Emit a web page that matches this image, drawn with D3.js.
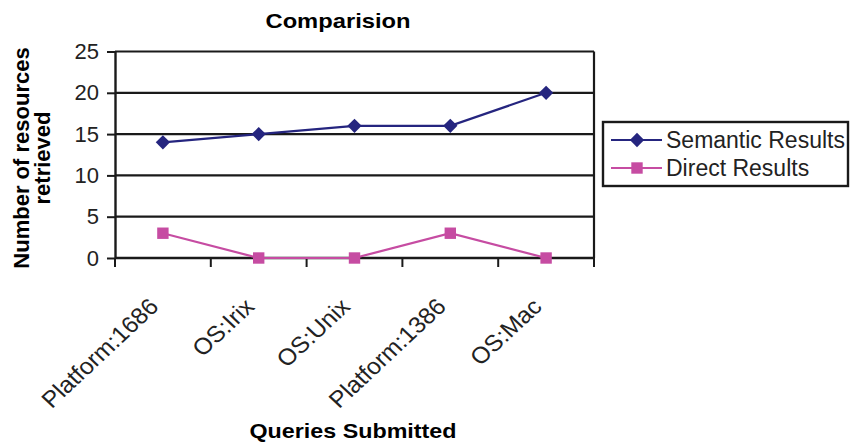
<!DOCTYPE html>
<html>
<head>
<meta charset="utf-8">
<script src="https://cdn.jsdelivr.net/npm/d3@7"></script>
<style>
  html, body { margin: 0; padding: 0; background: #fff; }
  svg { display: block; font-family: "Liberation Sans", Arial, sans-serif; }
</style>
</head>
<body>
<svg id="chart" width="851" height="447"></svg>
<script>
// Queries and the number of resources each one retrieved
const categories = ["Platform:1686", "OS:Irix", "OS:Unix", "Platform:1386", "OS:Mac"];
const semanticResults = [14, 15, 16, 16, 20];
const directResults = [3, 0, 0, 3, 0];
const yTicks = [0, 5, 10, 15, 20, 25];
const seriesNames = ["Semantic Results", "Direct Results"];

const svg = d3.select("#chart");
const plot = { left: 115, right: 594, top: 51.5, bottom: 258 };
const ink = "#1a1a1a";
const colors = { semantic: "#25257f", direct: "#c64ca2" };

const x = d3.scaleBand().domain(categories).range([plot.left, plot.right]);
const y = d3.scaleLinear().domain([0, 25]).range([plot.bottom, plot.top]);

// Title
svg.append("text")
  .attr("x", 338).attr("y", 28)
  .attr("text-anchor", "middle")
  .attr("font-weight", "bold")
  .attr("font-size", 21)
  .attr("textLength", 145).attr("lengthAdjust", "spacingAndGlyphs")
  .text("Comparision");

// Horizontal gridlines
svg.append("g")
  .selectAll("line")
  .data(yTicks)
  .join("line")
  .attr("x1", plot.left).attr("x2", plot.right)
  .attr("y1", d => y(d)).attr("y2", d => y(d))
  .attr("stroke", ink).attr("stroke-width", 2.2);

// Right border of the plot area
svg.append("line")
  .attr("x1", plot.right).attr("x2", plot.right)
  .attr("y1", y(25)).attr("y2", y(0))
  .attr("stroke", ink).attr("stroke-width", 2.2);

// Y axis
const yAxis = svg.append("g")
  .attr("transform", `translate(${plot.left},0)`)
  .call(d3.axisLeft(y).tickValues(yTicks).tickSize(8).tickPadding(8).tickSizeOuter(0));
yAxis.select(".domain").attr("stroke", ink).attr("stroke-width", 2.4);
yAxis.selectAll(".tick line").attr("stroke", ink).attr("stroke-width", 2);
yAxis.selectAll(".tick text")
  .attr("font-size", 22).attr("fill", "#222")
  .attr("font-family", "Liberation Sans, Arial, sans-serif");

// X axis: tick marks at the category boundaries
const boundaries = categories.map(c => x(c)).concat([plot.right]);
svg.append("line")
  .attr("x1", plot.left).attr("x2", plot.right)
  .attr("y1", plot.bottom).attr("y2", plot.bottom)
  .attr("stroke", ink).attr("stroke-width", 2.4);
svg.append("g")
  .selectAll("line")
  .data(boundaries)
  .join("line")
  .attr("x1", d => d).attr("x2", d => d)
  .attr("y1", plot.bottom).attr("y2", plot.bottom + 9)
  .attr("stroke", ink).attr("stroke-width", 2);

// Rotated category labels
svg.append("g")
  .selectAll("text")
  .data(categories)
  .join("text")
  .attr("transform", d => `translate(${x(d) + x.bandwidth() / 2 - 3},${plot.bottom + 50}) scale(1.07,1) rotate(-45)`)
  .attr("text-anchor", "end")
  .attr("font-size", 23)
  .attr("fill", "#222")
  .text(d => d);

// Axis titles
svg.append("text")
  .attr("x", 353).attr("y", 438)
  .attr("text-anchor", "middle")
  .attr("font-weight", "bold")
  .attr("font-size", 21)
  .attr("textLength", 207).attr("lengthAdjust", "spacingAndGlyphs")
  .text("Queries Submitted");

const yTitle = svg.append("text")
  .attr("transform", "translate(0,158) rotate(-90)")
  .attr("text-anchor", "middle")
  .attr("font-weight", "bold")
  .attr("font-size", 22);
yTitle.append("tspan").attr("x", 0).attr("y", 29).text("Number of resources");
yTitle.append("tspan").attr("x", 0).attr("y", 50).text("retrieved");

// Lines and markers
const line = d3.line()
  .x((d, i) => x(categories[i]) + x.bandwidth() / 2)
  .y(d => y(d));

svg.append("path")
  .datum(semanticResults)
  .attr("d", line)
  .attr("fill", "none")
  .attr("stroke", colors.semantic).attr("stroke-width", 2.2);

svg.append("path")
  .datum(directResults)
  .attr("d", line)
  .attr("fill", "none")
  .attr("stroke", colors.direct).attr("stroke-width", 2.2);

const diamond = d3.symbol().type(d3.symbolDiamond2).size(130);
const square = d3.symbol().type(d3.symbolSquare).size(130);

svg.append("g")
  .selectAll("path")
  .data(semanticResults)
  .join("path")
  .attr("d", diamond)
  .attr("transform", (d, i) => `translate(${x(categories[i]) + x.bandwidth() / 2},${y(d)})`)
  .attr("fill", colors.semantic);

svg.append("g")
  .selectAll("path")
  .data(directResults)
  .join("path")
  .attr("d", square)
  .attr("transform", (d, i) => `translate(${x(categories[i]) + x.bandwidth() / 2},${y(d)})`)
  .attr("fill", colors.direct);

// Legend
const legend = svg.append("g");
legend.append("rect")
  .attr("x", 603).attr("y", 122)
  .attr("width", 245).attr("height", 64)
  .attr("fill", "#fff")
  .attr("stroke", ink).attr("stroke-width", 2.4);

const legendItems = [
  { name: seriesNames[0], color: colors.semantic, symbol: diamond },
  { name: seriesNames[1], color: colors.direct, symbol: square }
];
legendItems.forEach((item, i) => {
  const cy = 140 + i * 28;
  legend.append("line")
    .attr("x1", 611).attr("x2", 662)
    .attr("y1", cy).attr("y2", cy)
    .attr("stroke", item.color).attr("stroke-width", 2.2);
  legend.append("path")
    .attr("d", item.symbol)
    .attr("transform", `translate(637,${cy})`)
    .attr("fill", item.color);
  legend.append("text")
    .attr("x", 666).attr("y", cy + 8)
    .attr("font-size", 23)
    .attr("fill", "#222")
    .text(item.name);
});
</script>
</body>
</html>
